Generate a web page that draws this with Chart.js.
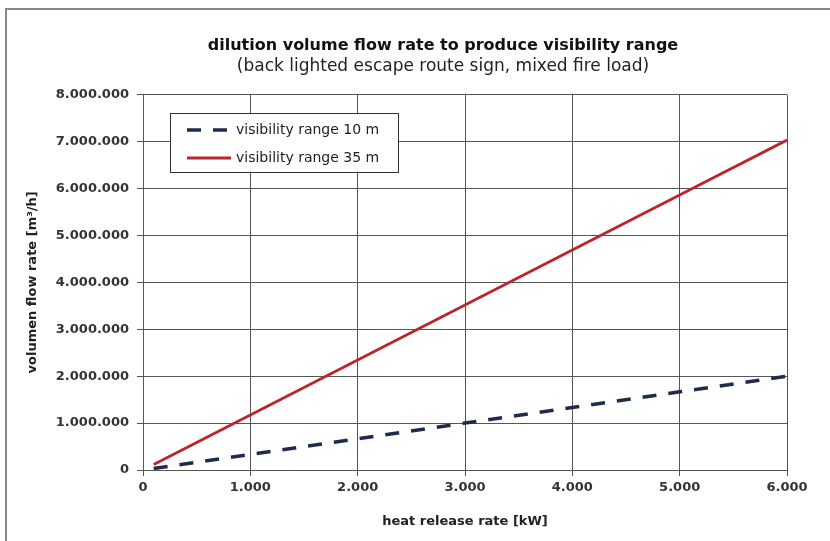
<!DOCTYPE html>
<html>
<head>
<meta charset="utf-8">
<script src="https://cdn.jsdelivr.net/npm/chart.js@4.4.1/dist/chart.umd.min.js"></script>
<style>
html, body { margin: 0; padding: 0; background: #fff; }
#wrap { position: relative; width: 830px; height: 541px; overflow: hidden; }
#frame { position: absolute; left: 5px; top: 8px; width: 900px; height: 600px;
         border-left: 2px solid #888; border-top: 2px solid #888; pointer-events: none; }
canvas { position: absolute; left: 0; top: 0; }
</style>
</head>
<body>
<div id="wrap">
  <canvas id="chart" width="830" height="541"></canvas>
  <div id="frame"></div>
</div>
<script>
// heat release rate [kW]
const heatRelease = [100, 1000, 2000, 3000, 4000, 5000, 6000];
// volume flow rate [m3/h]
const range10 = [33000, 333000, 667000, 1000000, 1333000, 1667000, 2000000];
const range35 = [117000, 1172000, 2343000, 3515000, 4687000, 5858000, 7030000];

const seriesNames = ['visibility range 10 m', 'visibility range 35 m'];
const xTickLabels = ['0', '1.000', '2.000', '3.000', '4.000', '5.000', '6.000'];
const yTickLabels = ['0', '1.000.000', '2.000.000', '3.000.000', '4.000.000',
                     '5.000.000', '6.000.000', '7.000.000', '8.000.000'];

const FONT = '"DejaVu Sans", Verdana, sans-serif';
const GRID = '#555';

function toPoints(xs, ys) {
    return xs.map((x, i) => ({ x: x, y: ys[i] }));
}

// legend drawn as a framed box inside the plot
const boxLegend = {
    id: 'boxLegend',
    afterDatasetsDraw(chart) {
        const ctx = chart.ctx;
        const x0 = 170, y0 = 113, w = 228, h = 59;
        ctx.save();
        ctx.fillStyle = '#fff';
        ctx.fillRect(x0, y0, w, h);
        ctx.strokeStyle = '#333';
        ctx.lineWidth = 1;
        ctx.strokeRect(x0 + 0.5, y0 + 0.5, w, h);
        chart.data.datasets.forEach((ds, i) => {
            const y = y0 + 17 + i * 28;
            ctx.beginPath();
            ctx.strokeStyle = ds.borderColor;
            ctx.lineWidth = ds.borderWidth;
            ctx.setLineDash(ds.borderDash || []);
            ctx.moveTo(187, y);
            ctx.lineTo(231, y);
            ctx.stroke();
            ctx.setLineDash([]);
            ctx.fillStyle = '#222';
            ctx.font = '14px ' + FONT;
            ctx.textBaseline = 'middle';
            ctx.fillText(ds.label, 236, y);
        });
        ctx.restore();
    }
};

new Chart(document.getElementById('chart'), {
    type: 'line',
    data: {
        datasets: [{
            label: seriesNames[0],
            data: toPoints(heatRelease, range10),
            borderColor: '#1d2b4c',
            borderWidth: 3.5,
            borderDash: [14, 12],
            pointRadius: 0,
            tension: 0,
            fill: false
        }, {
            label: seriesNames[1],
            data: toPoints(heatRelease, range35),
            borderColor: '#bb252b',
            borderWidth: 2.8,
            pointRadius: 0,
            tension: 0,
            fill: false
        }]
    },
    options: {
        responsive: false,
        devicePixelRatio: 1,
        animation: false,
        layout: { padding: { left: 56, top: 10, right: 0, bottom: 5 } },
        plugins: {
            legend: { display: false },
            tooltip: { enabled: false },
            title: {
                display: true,
                text: 'dilution volume flow rate to produce visibility range',
                color: '#111',
                font: { family: FONT, size: 16, weight: 'bold' },
                padding: { top: 26, bottom: 1 }
            },
            subtitle: {
                display: true,
                text: '(back lighted escape route sign, mixed fire load)',
                color: '#222',
                font: { family: FONT, size: 17 },
                padding: { top: 0, bottom: 18 }
            }
        },
        scales: {
            x: {
                type: 'linear',
                min: 0,
                max: 6000,
                ticks: {
                    stepSize: 1000,
                    color: '#333',
                    padding: 4,
                    maxRotation: 0,
                    font: { family: FONT, size: 13, weight: 'bold' },
                    callback: (v, i) => xTickLabels[i]
                },
                grid: { color: GRID, tickLength: 6 },
                border: { color: GRID },
                title: {
                    display: true,
                    text: 'heat release rate [kW]',
                    color: '#222',
                    font: { family: FONT, size: 13, weight: 'bold' },
                    padding: { top: 2, bottom: 7 }
                },
                afterFit: s => { s.height = 66; }
            },
            y: {
                min: 0,
                max: 8000000,
                ticks: {
                    stepSize: 1000000,
                    color: '#333',
                    padding: 8,
                    font: { family: FONT, size: 13, weight: 'bold' },
                    callback: (v, i) => yTickLabels[i]
                },
                grid: { color: GRID, tickLength: 6 },
                border: { color: GRID },
                title: {
                    display: true,
                    text: 'volumen flow rate [m³/h]',
                    color: '#222',
                    font: { family: FONT, size: 13, weight: 'bold' },
                    padding: { top: -31, bottom: 4 }
                },
                afterFit: s => { s.width = 87; }
            },
            // empty right axis, only keeps room beside the plot
            yRight: {
                position: 'right',
                ticks: { display: false },
                grid: { display: false },
                border: { display: false },
                afterFit: s => { s.width = 43; }
            }
        }
    },
    plugins: [boxLegend]
});
</script>
</body>
</html>
